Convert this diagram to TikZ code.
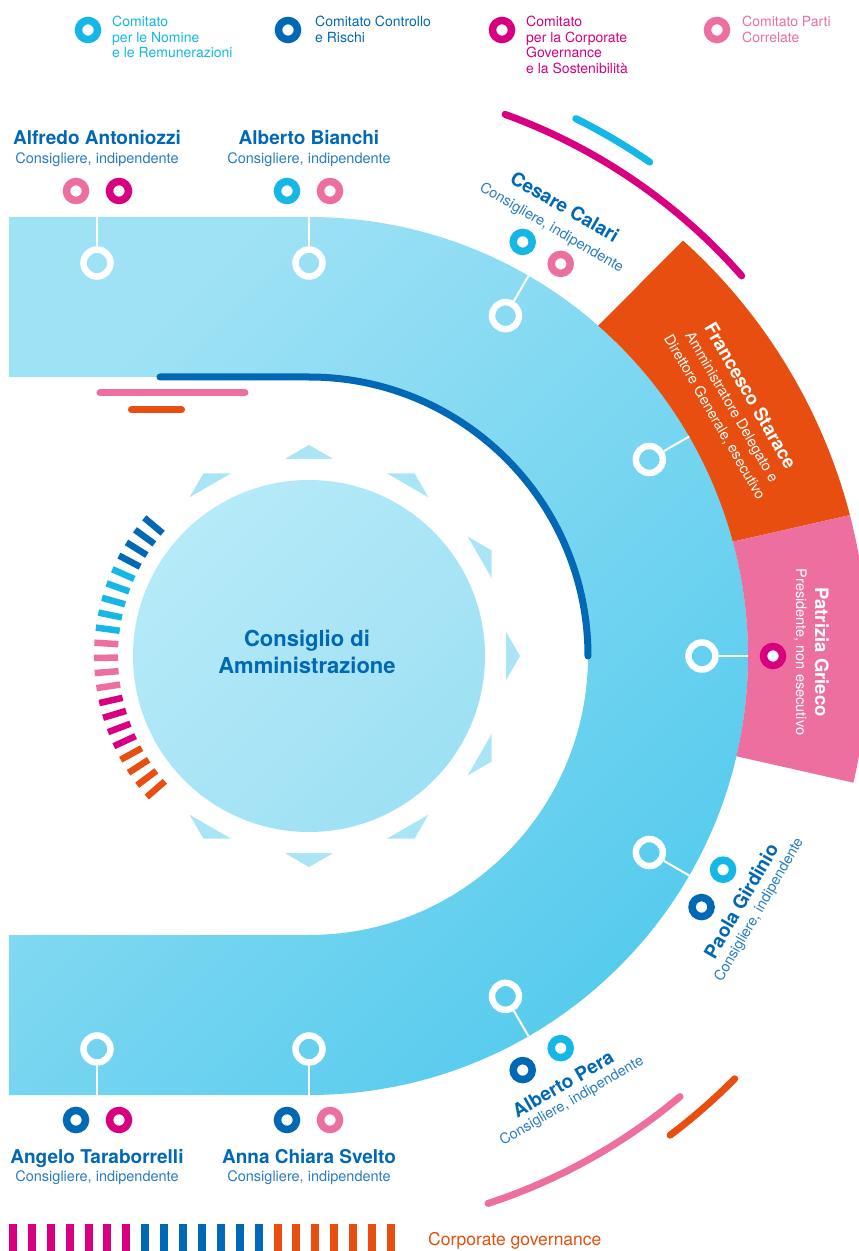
\documentclass[tikz,border=0pt]{standalone}
\usepackage{fontspec}
\setmainfont{TeX Gyre Heros}
\definecolor{cdark}{RGB}{0,104,180}
\definecolor{ccyan}{RGB}{20,183,230}
\definecolor{cmag}{RGB}{216,0,127}
\definecolor{cpink}{RGB}{236,111,160}
\definecolor{corange}{RGB}{232,78,15}
\definecolor{csub}{RGB}{40,125,195}
\definecolor{bandA}{RGB}{160,226,245}
\definecolor{bandB}{RGB}{86,203,237}
\definecolor{circA}{RGB}{182,234,248}
\definecolor{circB}{RGB}{158,224,244}
\definecolor{starc}{RGB}{170,229,246}
\begin{document}
\begin{tikzpicture}[x=1pt,y=1pt,
  boardring/.style={circle, draw=white, line width=6.5pt, minimum size=27pt, inner sep=0pt},
  cring/.style={circle, draw=#1, line width=7.5pt, fill=white, minimum size=19pt, inner sep=0pt},
  conn/.style={draw=white, line width=2pt},
  pname/.style={font=\fontsize{19}{20}\selectfont\bfseries, text=cdark, inner sep=0pt},
  prole/.style={font=\fontsize{14.5}{16}\selectfont, text=csub, inner sep=0pt},
  wname/.style={font=\fontsize{18.5}{20}\selectfont\bfseries, text=white, inner sep=0pt},
  wrole/.style={font=\fontsize{14.5}{16}\selectfont, text=white, inner sep=0pt},
  legtext/.style={font=\fontsize{14}{15.5}\selectfont, inner sep=0pt, align=left, anchor=base west},
  cline/.style={line width=7pt, line cap=round},
  tickmark/.style={line width=6.5pt},
]
\useasboundingbox (-309,-595) rectangle (550,656);
\fill[white] (-309,-595) rectangle (550,656);

% ---- star around the central circle
\fill[starc] (90:211) -- (150:211) -- (210:211) -- (270:211) -- (330:211) -- (30:211) -- cycle;
\fill[starc] (0:211) -- (60:211) -- (120:211) -- (180:211) -- (240:211) -- (300:211) -- cycle;
\begin{scope}
  \clip (90:227.5) -- (150:227.5) -- (210:227.5) -- (270:227.5) -- (330:227.5) -- (30:227.5) -- cycle;
  \fill[white] (0:227.5) -- (60:227.5) -- (120:227.5) -- (180:227.5) -- (240:227.5) -- (300:227.5) -- cycle;
\end{scope}
% left side of the star left free for the tick marks
\fill[white] (130:180) arc[start angle=130, end angle=230, radius=180]
  -- (230:240) arc[start angle=230, end angle=130, radius=240] -- cycle;
\shade[top color=circA, bottom color=circB, shading angle=45] (0,0) circle (176);
\node[font=\fontsize{22}{27}\selectfont\bfseries, text=cdark, align=center, inner sep=0pt] (board) at (-2,3.6) {Consiglio di\\Amministrazione};

% ---- band
\shade[top color=bandA, bottom color=bandB, shading angle=45]
  (-300,439) -- (0,439) arc[start angle=90, end angle=-90, radius=439]
  -- (-300,-439) -- (-300,-279) -- (0,-279)
  arc[start angle=-90, end angle=90, radius=279] -- (-300,279) -- cycle;

% ---- sectors
\fill[corange] (48.8:439) arc[start angle=48.8, end angle=15.1, radius=439]
  -- (14.6:559) arc[start angle=14.6, end angle=48, radius=559] -- cycle;
\fill[cpink] (15.1:439) arc[start angle=15.1, end angle=-13.2, radius=439]
  -- (-13.1:559) arc[start angle=-13.1, end angle=14.6, radius=559] -- cycle;

% ---- lines
\draw[cline, cdark] (-149,279) -- (0,279) arc[start angle=90, end angle=0, radius=279];
\draw[cline, cpink] (-209,263) -- (-64,263);
\draw[cline, corange] (-177.5,246) -- (-127.5,246);
\draw[cline, cmag] (41.3:576) arc[start angle=41.3, end angle=70.1, radius=576];
\draw[cline, ccyan] (55.4:600) arc[start angle=55.4, end angle=63.6, radius=600];
\draw[cline, cpink] (-71.9:576) arc[start angle=-71.9, end angle=-49.9, radius=576];
\draw[cline, corange] (-53:600) arc[start angle=-53, end angle=-44.8, radius=600];

% ---- ticks
\foreach \i/\c in {0/cdark,1/cdark,2/cdark,3/cdark,4/ccyan,5/ccyan,6/ccyan,7/ccyan,8/ccyan,
  9/cpink,10/cpink,11/cpink,12/cpink,13/cmag,14/cmag,15/cmag,16/cmag,
  17/corange,18/corange,19/corange,20/corange}
  \draw[tickmark, \c] ({140+4.05*\i}:191) -- ({140+4.05*\i}:215);

% ---- bottom stripes
\foreach \i/\c in {0/cmag,1/cmag,2/cmag,3/cmag,4/cmag,5/cmag,6/cmag,
  7/cdark,8/cdark,9/cdark,10/cdark,11/cdark,12/cdark,13/cdark,
  14/corange,15/corange,16/corange,17/corange,18/corange,19/corange,20/corange}
  \fill[\c] ({-300+18.9*\i},-568) rectangle ({-292+18.9*\i},-600);
\node[font=\fontsize{17.5}{20}\selectfont, text=corange, anchor=base west, inner sep=0pt] (cg) at (119,-589) {Corporate governance};

% ---- board rings and connectors
\node[boardring] (rA) at (-212,393) {};
\node[boardring] (rB) at (0,393) {};
\node[boardring] (rC) at (60:393) {};
\node[boardring] (rF) at (30:393) {};
\node[boardring] (rP) at (0:393) {};
\node[boardring] (rG) at (-30:393) {};
\node[boardring] (rE) at (-60:393) {};
\node[boardring] (rT) at (-212,-393) {};
\node[boardring] (rS) at (0,-393) {};
\coordinate (eA) at (-212,439);
\coordinate (eB) at (0,439);
\coordinate (eC) at (60:439);
\coordinate (eF) at (30:439);
\coordinate (eP) at (0:439);
\coordinate (eG) at (-30:439);
\coordinate (eE) at (-60:439);
\coordinate (eT) at (-212,-439);
\coordinate (eS) at (0,-439);
\foreach \n in {A,B,C,F,P,G,E,T,S} \draw[conn] (r\n) -- (e\n);

% ---- committee rings
\node[cring=cpink] (cA1) at (-233,465) {};
\node[cring=cmag] (cA2) at (-190,465) {};
\node[cring=ccyan] (cB1) at (-22,465) {};
\node[cring=cpink] (cB2) at (21,465) {};
\node[cring=ccyan] (cC1) at (62.7:466) {};
\node[cring=cpink] (cC2) at (57.3:466) {};
\node[cring=cmag] (cP1) at (0:464) {};
\node[cring=ccyan] (cG1) at (-27.3:466) {};
\node[cring=cdark] (cG2) at (-32.6:466) {};
\node[cring=cdark] (cE1) at (-62.7:466) {};
\node[cring=ccyan] (cE2) at (-57.3:466) {};
\node[cring=cdark] (cT1) at (-233,-464) {};
\node[cring=cmag] (cT2) at (-190,-464) {};
\node[cring=cdark] (cS1) at (-22,-464) {};
\node[cring=cpink] (cS2) at (21,-464) {};

% ---- legend (anchor = baseline of the last line)
\node[cring=ccyan] (l1) at (-221,626) {};
\node[cring=cdark] (l2) at (-21,626) {};
\node[cring=cmag] (l3) at (193,626) {};
\node[cring=cpink] (l4) at (408,626) {};
\node[legtext, text=ccyan] (t1) at (-197,598) {Comitato\\per le Nomine\\e le Remunerazioni};
\node[legtext, text=cdark] (t2) at (6,613.5) {Comitato Controllo\\e Rischi};
\node[legtext, text=cmag] (t3) at (217,582.5) {Comitato\\per la Corporate\\Governance\\e la Sostenibilità};
\node[legtext, text=cpink] (t4) at (433,613.5) {Comitato Parti\\Correlate};

% ---- names (horizontal)
\node[pname, anchor=base] (nA) at (-212,511) {Alfredo Antoniozzi};
\node[prole, anchor=base] (sA) at (-212,492) {Consigliere, indipendente};
\node[pname, anchor=base] (nB) at (0,511) {Alberto Bianchi};
\node[prole, anchor=base] (sB) at (0,492) {Consigliere, indipendente};
\node[pname, anchor=base] (nT) at (-212,-507) {Angelo Taraborrelli};
\node[prole, anchor=base] (sT) at (-212,-525) {Consigliere, indipendente};
\node[pname, anchor=base] (nS) at (0,-507) {Anna Chiara Svelto};
\node[prole, anchor=base] (sS) at (0,-525) {Consigliere, indipendente};

% ---- names (rotated)
\begin{scope}[rotate=-30]
  \node[pname, anchor=base, transform shape] (nC) at (-3,510) {Cesare Calari};
  \node[prole, anchor=base, transform shape] (sC) at (-4,488) {Consigliere, indipendente};
\end{scope}
\begin{scope}[rotate=-60]
  \node[wname, anchor=base west, transform shape] (nF) at (-87,506) {Francesco Starace};
  \node[wrole, anchor=base west, transform shape] (sF1) at (-90,486) {Amministratore Delegato e};
  \node[wrole, anchor=base west, transform shape] (sF2) at (-98,466) {Direttore Generale, esecutivo};
\end{scope}
\begin{scope}[rotate=-90]
  \node[wname, anchor=base, transform shape] (nP) at (-4,506) {Patrizia Grieco};
  \node[wrole, anchor=base, transform shape] (sP) at (-4,487) {Presidente, non esecutivo};
\end{scope}
\begin{scope}[rotate=60]
  \node[pname, anchor=base, transform shape] (nG) at (4,-503.5) {Paola Girdinio};
  \node[prole, anchor=base, transform shape] (sG) at (5,-521) {Consigliere, indipendente};
\end{scope}
\begin{scope}[rotate=30]
  \node[pname, anchor=base, transform shape] (nE) at (6,-504.5) {Alberto Pera};
  \node[prole, anchor=base, transform shape] (sE) at (5,-521) {Consigliere, indipendente};
\end{scope}
\end{tikzpicture}
\end{document}
